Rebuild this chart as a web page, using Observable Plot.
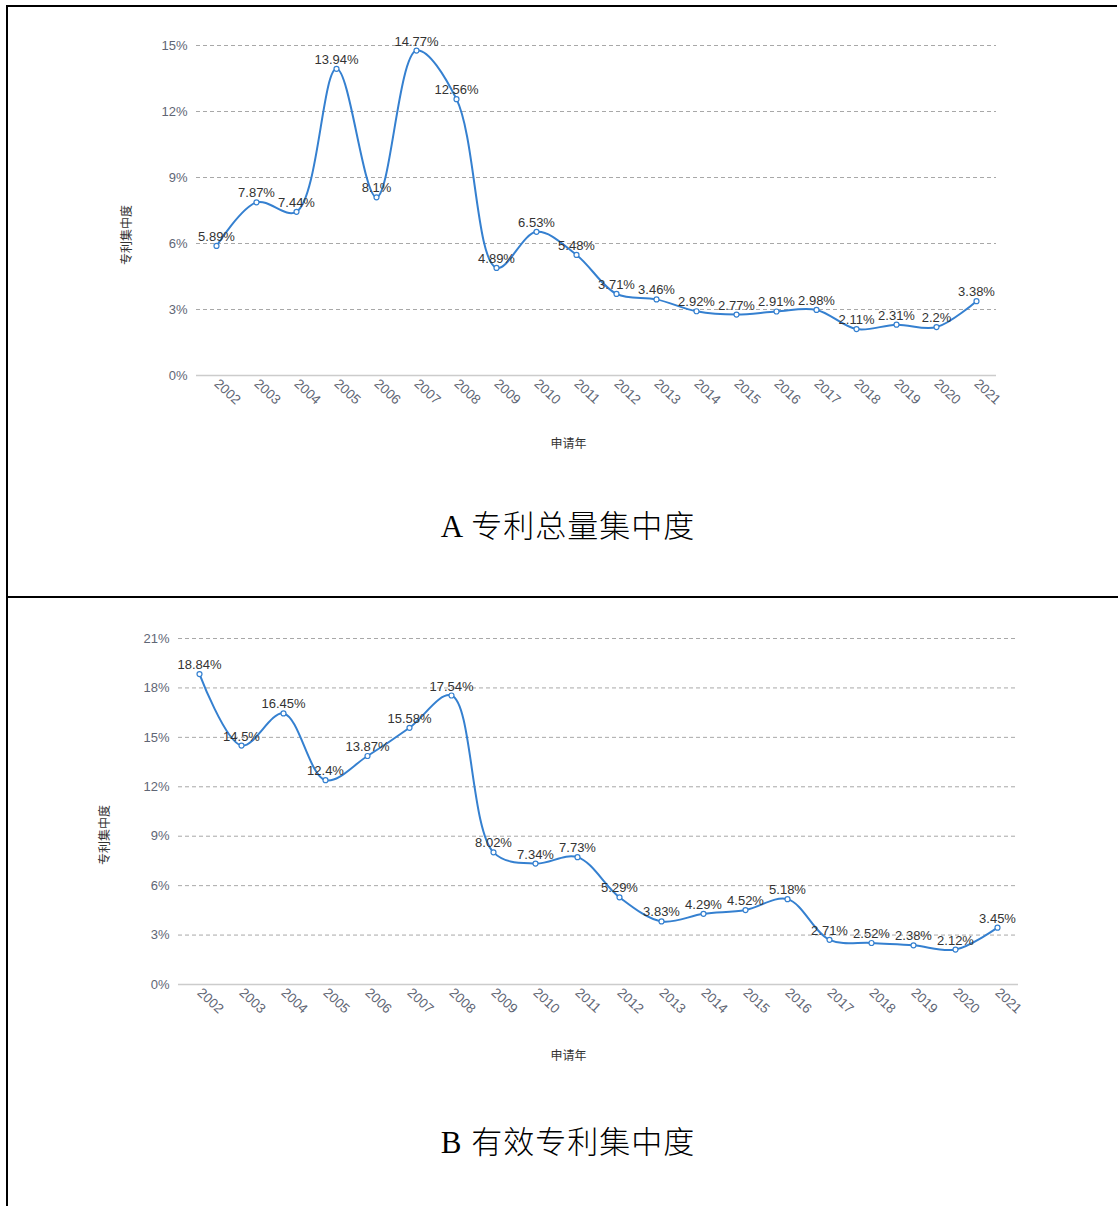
<!DOCTYPE html>
<html>
<head>
<meta charset="utf-8">
<script src="https://cdn.jsdelivr.net/npm/d3@7"></script>
<script src="https://cdn.jsdelivr.net/npm/@observablehq/plot@0.6"></script>
<style>
  html, body { margin: 0; padding: 0; background: white; }
  #page { position: relative; width: 1118px; height: 1206px; overflow: hidden; background: white; }
  .panel { position: absolute; left: 0; }
  .title { position: absolute; left: 9px; width: 1118px; text-align: center;
           font-family: "Liberation Serif", "Noto Sans CJK SC", serif; font-size: 31px; font-weight: 300;
           letter-spacing: 1px; color: #000; line-height: 1; }
  .ytitle { position: absolute; font-family: "Liberation Sans", "Noto Sans CJK SC", sans-serif;
            font-size: 12px; color: #333; white-space: nowrap; line-height: 1;
            transform: translate(-50%, -50%) rotate(-90deg); }
  .rule { position: absolute; background: #000; }
</style>
</head>
<body>
<div id="page">
  <div class="panel" id="chartA" style="top:0px"></div>
  <div class="panel" id="chartB" style="top:600px"></div>
  <div class="ytitle" id="ytA" style="left:127px; top:235px"></div>
  <div class="ytitle" id="ytB" style="left:105px; top:835px"></div>
  <div class="title" style="top:511px">A 专利总量集中度</div>
  <div class="title" style="top:1127px">B 有效专利集中度</div>
  <div class="rule" style="left:6px; top:5px; width:1111px; height:2px"></div>
  <div class="rule" style="left:6px; top:5px; width:2px; height:1201px"></div>
  <div class="rule" style="left:6px; top:596px; width:1112px; height:2px"></div>
</div>
<script>
const years = ["2002","2003","2004","2005","2006","2007","2008","2009","2010","2011",
               "2012","2013","2014","2015","2016","2017","2018","2019","2020","2021"];
const totalShare = [5.89, 7.87, 7.44, 13.94, 8.1, 14.77, 12.56, 4.89, 6.53, 5.48,
                    3.71, 3.46, 2.92, 2.77, 2.91, 2.98, 2.11, 2.31, 2.2, 3.38];
const validShare = [18.84, 14.5, 16.45, 12.4, 13.87, 15.58, 17.54, 8.02, 7.34, 7.73,
                    5.29, 3.83, 4.29, 4.52, 5.18, 2.71, 2.52, 2.38, 2.12, 3.45];
const ticksA = [0, 3, 6, 9, 12, 15];
const ticksB = [0, 3, 6, 9, 12, 15, 18, 21];
const yTitle = "专利集中度";
const xTitle = "申请年";

const lineColor = "#3580d0";

document.getElementById("ytA").textContent = yTitle;
document.getElementById("ytB").textContent = yTitle;

function makeChart({values, ticks, height, marginLeft, marginRight, marginTop, marginBottom, xLabelDx, xLabelDy}) {
  const data = years.map((year, i) => ({year, value: values[i]}));
  return Plot.plot({
    width: 1118,
    height,
    marginLeft, marginRight, marginTop, marginBottom,
    style: {background: "transparent", fontFamily: "'Liberation Sans', 'Noto Sans CJK SC', sans-serif", fontSize: "13px"},
    x: {type: "point", domain: years, padding: 0.5},
    y: {domain: [0, ticks[ticks.length - 1]]},
    marks: [
      Plot.gridY(ticks.filter(t => t > 0), {stroke: "#a8a8a8", strokeOpacity: 1, strokeDasharray: "4,3"}),
      Plot.ruleY([0], {stroke: "#cccccc", strokeWidth: 1.5}),
      Plot.axisY(ticks, {tickSize: 0, tickPadding: 9, tickFormat: d => d + "%", fill: "#5f6675", label: null, fontSize: 13}),
      Plot.axisX({tickSize: 0, tickPadding: 6, tickRotate: 43, fill: "#5f6675", label: null, fontSize: 13.5}),
      Plot.line(data, {x: "year", y: "value", stroke: lineColor, strokeWidth: 2, curve: "catmull-rom"}),
      Plot.dot(data, {x: "year", y: "value", r: 2.5, fill: "white", stroke: lineColor, strokeWidth: 1.2}),
      Plot.text(data, {x: "year", y: "value", text: d => d.value + "%", dy: -5, lineAnchor: "bottom", fill: "#333", fontSize: 13}),
      Plot.text([xTitle], {frameAnchor: "bottom", text: d => d, dx: xLabelDx, dy: xLabelDy, fill: "#333", fontSize: 12})
    ]
  });
}

document.getElementById("chartA").append(makeChart({
  values: totalShare, ticks: ticksA, height: 470,
  marginLeft: 196, marginRight: 122, marginTop: 45, marginBottom: 95,
  xLabelDx: -28, xLabelDy: 72
}));

document.getElementById("chartB").append(makeChart({
  values: validShare, ticks: ticksB, height: 500,
  marginLeft: 178, marginRight: 100, marginTop: 38, marginBottom: 116,
  xLabelDx: -30, xLabelDy: 75
}));
</script>
</body>
</html>
